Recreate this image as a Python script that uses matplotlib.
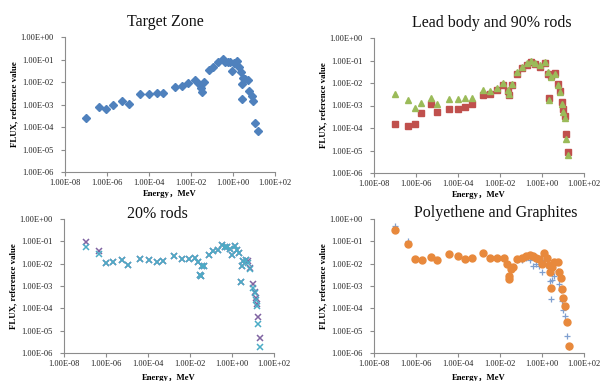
import numpy as np
import matplotlib
matplotlib.use("Agg")
import matplotlib.pyplot as plt
from matplotlib.ticker import FixedLocator, FixedFormatter, NullLocator

# ---------------- data (log10 of energy in MeV, log10 of flux) ----------------
titles = ["Target Zone", "Lead body and 90% rods", "20% rods", "Polyethene and Graphites"]
x_tick_labels = ["1.00E-08", "1.00E-06", "1.00E-04", "1.00E-02", "1.00E+00", "1.00E+02"]
y_tick_labels = ["1.00E+00", "1.00E-01", "1.00E-02", "1.00E-03", "1.00E-04", "1.00E-05", "1.00E-06"]

tz_log_e = [-7.01, -6.40, -6.05, -5.73, -5.29, -4.97, -4.43, -3.98, -3.63, -3.32,
            -2.78, -2.44, -2.12, -1.80, -1.60, -1.54, -1.48, -1.38, -1.15, -0.93,
            -0.70, -0.49, -0.36, -0.25, -0.14, -0.03, 0.07, 0.17, 0.29, 0.37,
            0.41, 0.43, 0.49, 0.57, 0.70, 0.78, 0.89, 0.97, 1.06, 1.19]
tz_log_flux = [-3.61, -3.13, -3.22, -3.04, -2.86, -2.96, -2.55, -2.55, -2.48, -2.48,
               -2.20, -2.18, -2.05, -1.90, -2.09, -2.26, -2.44, -1.98, -1.47, -1.32,
               -1.10, -0.99, -1.10, -1.12, -1.13, -1.52, -1.16, -1.07, -1.34, -1.56,
               -2.76, -2.08, -1.82, -1.88, -1.92, -2.38, -2.60, -2.85, -3.80, -4.18]

lead_log_e = [-7.00, -6.38, -6.06, -5.74, -5.30, -4.99, -4.44, -4.01, -3.69, -3.33,
              -2.80, -2.48, -2.16, -1.84, -1.62, -1.56, -1.41, -1.20, -0.97, -0.73,
              -0.54, -0.34, -0.10, 0.14, 0.29, 0.34, 0.45, 0.61, 0.77, 0.85,
              0.93, 1.00, 1.08, 1.16, 1.24]
lead_body = [-3.84, -3.93, -3.84, -3.34, -2.94, -3.30, -3.16, -3.16, -3.07, -2.94,
             -2.52, -2.49, -2.31, -2.10, -2.35, -2.55, -2.10, -1.58, -1.35, -1.20,
             -1.05, -1.15, -1.28, -1.12, -1.58, -2.68, -1.70, -1.55, -2.05, -2.35,
             -2.85, -3.15, -3.45, -4.25, -5.05]
rods_90 = [-2.47, -2.76, -3.09, -2.89, -2.67, -2.92, -2.71, -2.70, -2.68, -2.65,
           -2.29, -2.34, -2.22, -2.00, -2.30, -2.50, -2.05, -1.50, -1.28, -1.12,
           -1.00, -1.10, -1.20, -1.08, -1.50, -2.75, -1.75, -1.60, -2.10, -2.40,
           -2.95, -3.30, -3.55, -4.50, -5.20]

r20_log_e = [-6.95, -6.35, -6.00, -5.69, -5.24, -4.93, -4.39, -3.94, -3.59, -3.28,
             -2.74, -2.39, -2.07, -1.74, -1.60, -1.53, -1.49, -1.41, -1.33, -1.09,
             -0.90, -0.66, -0.46, -0.35, -0.22, -0.11, -0.01, 0.15, 0.24, 0.34,
             0.42, 0.46, 0.53, 0.65, 0.76, 0.88, 1.00, 1.08, 1.13, 1.19,
             1.26, 1.35]
r20_a = [-1.03, -1.42, -1.97, -1.94, -1.84, -2.04, -1.79, -1.82, -1.93, -1.90,
         -1.64, -1.81, -1.78, -1.75, -1.94, -2.49, -2.57, -2.09, -2.09, -1.60,
         -1.45, -1.37, -1.15, -1.25, -1.25, -1.34, -1.60, -1.19, -1.37, -1.52,
         -2.84, -2.12, -1.90, -1.82, -1.90, -2.19, -2.90, -3.25, -3.55, -3.79,
         -4.39, -5.33]
r20_b = [-1.25, -1.57, -1.97, -1.94, -1.84, -2.04, -1.79, -1.82, -1.93, -1.90,
         -1.64, -1.81, -1.78, -1.75, -1.94, -2.49, -2.57, -2.09, -2.09, -1.60,
         -1.45, -1.37, -1.15, -1.25, -1.25, -1.34, -1.60, -1.19, -1.37, -1.52,
         -2.84, -2.12, -1.90, -1.82, -1.97, -2.24, -3.09, -3.31, -3.61, -3.91,
         -4.69, -5.75]

pg_log_e = [-7.00, -6.40, -6.05, -5.71, -5.29, -4.98, -4.43, -4.00, -3.68, -3.33,
            -2.81, -2.46, -2.13, -1.81, -1.65, -1.59, -1.56, -1.49, -1.37, -1.17,
            -0.97, -0.76, -0.57, -0.41, -0.29, -0.13, -0.02, 0.11, 0.22, 0.33,
            0.38, 0.41, 0.46, 0.57, 0.75, 0.81, 0.90, 0.95, 1.02, 1.10,
            1.17, 1.30]
pg_plus = [-0.30, -1.00, -1.78, -1.82, -1.70, -1.82, -1.57, -1.67, -1.78, -1.75,
           -1.52, -1.75, -1.75, -1.75, -2.00, -2.57, -2.69, -2.24, -2.15, -1.82,
           -1.85, -1.75, -1.85, -2.09, -2.00, -2.10, -2.39, -1.85, -2.00, -2.19,
           -2.79, -3.58, -2.72, -2.55, -2.35, -2.90, -3.20, -3.69, -4.06, -4.33,
           -5.25, -5.72]
pg_circle = [-0.51, -1.10, -1.78, -1.82, -1.70, -1.82, -1.57, -1.67, -1.78, -1.75,
             -1.52, -1.75, -1.75, -1.75, -2.00, -2.57, -2.69, -2.24, -2.15, -1.79,
             -1.75, -1.64, -1.60, -1.67, -1.75, -1.79, -2.00, -1.52, -1.75, -2.04,
             -2.39, -3.09, -2.13, -1.94, -1.94, -2.39, -2.64, -3.13, -3.54, -3.88,
             -4.63, -5.70]

# ---------------- figure ----------------
W, H = 604, 381
fig = plt.figure(figsize=(W / 100, H / 100), dpi=100)
fig.patch.set_facecolor("white")

serif = ["Liberation Serif", "DejaVu Serif"]
serif_cjk = ["Liberation Serif", "Noto Sans CJK SC", "DejaVu Serif"]

def px_axes(l, r, t, b):
    return fig.add_axes([l / W, (H - b) / H, (r - l) / W, (b - t) / H])

boxes = [(65, 275, 37, 172), (374, 584, 38, 173), (64, 274, 219, 353), (374, 584, 219, 353)]
title_pos = [(0.48, 1.11), (0.56, 1.11), (0.443, 1.04), (0.58, 1.045)]
xlab_y = [-0.13, -0.13, -0.153, -0.153]

axes = [px_axes(*b) for b in boxes]

def style(ax, i):
    ax.set_xscale("log")
    ax.set_yscale("log")
    ax.set_xlim(1e-8, 1e2)
    ax.set_ylim(1e-6, 1e0)
    xt = [1e-8, 1e-6, 1e-4, 1e-2, 1e0, 1e2]
    yt = [1e0, 1e-1, 1e-2, 1e-3, 1e-4, 1e-5, 1e-6]
    ax.xaxis.set_major_locator(FixedLocator(xt))
    ax.xaxis.set_major_formatter(FixedFormatter(x_tick_labels))
    ax.yaxis.set_major_locator(FixedLocator(yt))
    ax.yaxis.set_major_formatter(FixedFormatter(y_tick_labels))
    ax.xaxis.set_minor_locator(NullLocator())
    ax.yaxis.set_minor_locator(NullLocator())
    for s in ("top", "right"):
        ax.spines[s].set_visible(False)
    for s in ("left", "bottom"):
        ax.spines[s].set_color("#8c8c8c")
        ax.spines[s].set_linewidth(0.8)
    ax.tick_params(axis="both", direction="out", length=3, width=0.8,
                   color="#8c8c8c", pad=2, labelsize=6.0, labelcolor="#222222")
    ax.tick_params(axis="y", pad=5)
    for lab in ax.get_xticklabels() + ax.get_yticklabels():
        lab.set_family(serif)
    ax.set_ylabel("FLUX, reference value", family=serif, fontsize=6.4,
                  fontweight="bold", labelpad=1.5)
    ax.set_xlabel("Energy，MeV", family=serif_cjk, fontsize=6.2,
                  fontweight="bold")
    ax.xaxis.set_label_coords(0.5, xlab_y[i])
    ax.text(title_pos[i][0], title_pos[i][1], titles[i], transform=ax.transAxes,
            ha="center", va="center", family=serif, fontsize=11.5, color="#111111")

def pw(v):
    return np.power(10.0, np.array(v, dtype=float))

# Target zone
ax = axes[0]
ax.plot(pw(tz_log_e), pw(tz_log_flux), ls="none", marker="D", ms=3.9,
        color="#4F81BD", mec="#4F81BD")

# Lead body and 90% rods
ax = axes[1]
ax.plot(pw(lead_log_e), pw(lead_body), ls="none", marker="s", ms=4.6,
        color="#C0504D", mec="#C0504D")
ax.plot(pw(lead_log_e), pw(rods_90), ls="none", marker="^", ms=4.6,
        color="#9BBB59", mec="#9BBB59")

# 20% rods
ax = axes[2]
ax.plot(pw(r20_log_e), pw(r20_a), ls="none", marker="x", ms=4.2, mew=1.1,
        color="#8064A2")
ax.plot(pw(r20_log_e), pw(r20_b), ls="none", marker="x", ms=4.2, mew=1.1,
        color="#4BACC6")

# Polyethene and graphites
ax = axes[3]
ax.plot(pw(pg_log_e), pw(pg_plus), ls="none", marker="+", ms=4.8, mew=0.9,
        color="#7F9FCF")
ax.plot(pw(pg_log_e), pw(pg_circle), ls="none", marker="o", ms=5.0,
        color="#E8893C", mec="#E8893C")

for i, ax in enumerate(axes):
    style(ax, i)

fig.savefig("out.png", dpi=100, facecolor="white")
